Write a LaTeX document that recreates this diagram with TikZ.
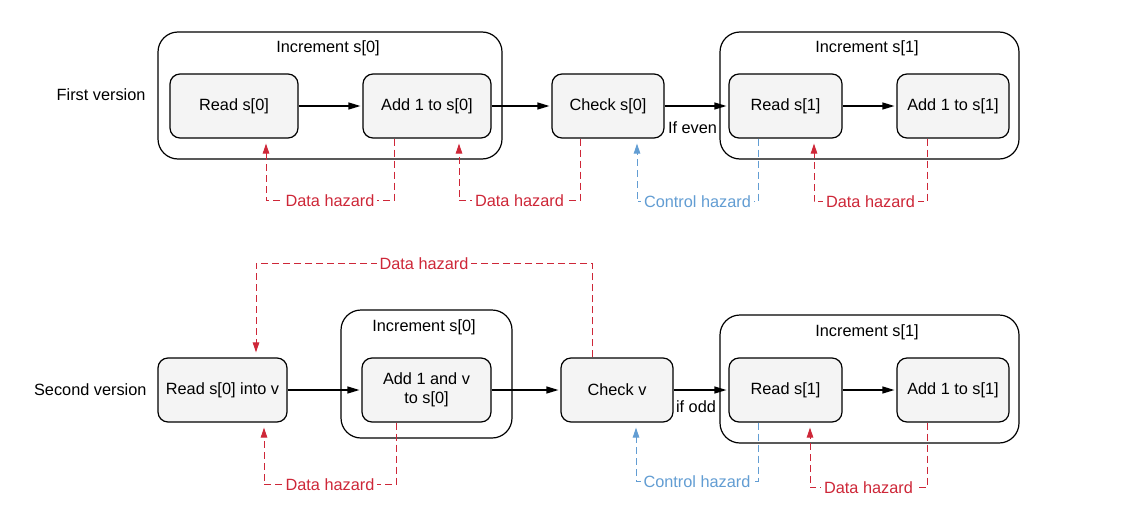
\documentclass[tikz,border=0pt]{standalone}
\usepackage{fontspec}
\setmainfont{Liberation Sans}
\usetikzlibrary{arrows.meta,calc}
\definecolor{hzred}{RGB}{206,39,56}
\definecolor{hzblue}{RGB}{98,157,211}
\definecolor{boxfill}{RGB}{244,244,244}
\begin{document}
\begin{tikzpicture}[x=1pt,y=-1pt,
  font=\fontsize{16.3}{19.5}\selectfont,
  stage/.style={draw, rounded corners=10pt, fill=boxfill, line width=1.2pt, minimum height=64pt, inner sep=2pt, align=center},
  group/.style={draw, rounded corners=20pt, line width=1.2pt},
  flow/.style={-{Triangle[length=12pt,width=7pt]}, line width=1.2pt, shorten >=2pt},
  haz/.style={dash pattern=on 7pt off 4pt, line width=1pt, -{Triangle[length=10pt,width=6.5pt]}, shorten >=5pt},
  hazlbl/.style={fill=white, inner sep=3pt}]
\useasboundingbox (0,0) rectangle (1131,522);

% ---------- First version ----------
\node[anchor=east] (lbl1) at (149,95) {First version};
\node[group, minimum width=344pt, minimum height=127pt] (g1) at (330,95.5) {};
\node (t1) at (328,48) {Increment s[0]};
\node[group, minimum width=299pt, minimum height=127pt] (g2) at (869.5,95.5) {};
\node (t2) at (867,48) {Increment s[1]};

\node[stage, minimum width=128pt] (r0) at (234,106) {Read s[0]};
\node[stage, minimum width=128pt] (a0) at (427,106) {Add 1 to s[0]};
\node[stage, minimum width=112pt] (c0) at (608,106) {Check s[0]};
\node[stage, minimum width=113pt] (r1) at (785.5,106) {Read s[1]};
\node[stage, minimum width=112pt] (a1) at (953,106) {Add 1 to s[1]};

\draw[flow] (r0) -- (a0);
\draw[flow] (a0) -- (c0);
\draw[flow] (c0) -- (r1) node[midway, xshift=-4pt, yshift=-22pt] (ife) {If even};
\draw[flow] (r1) -- (a1);

\draw[haz, hzred] ([xshift=-33pt]a0.south) -- ++(0,62) -| ([xshift=32pt]r0.south)
  node[hazlbl, pos=0.25] (h1) {Data hazard};
\draw[haz, hzred] ([xshift=-28pt]c0.south) -- ++(0,62) -| ([xshift=32pt]a0.south)
  node[hazlbl, pos=0.25] (h2) {Data hazard};
\draw[haz, hzblue] ([xshift=-27.5pt]r1.south) -- ++(0,63) -| ([xshift=29pt]c0.south)
  node[hazlbl, pos=0.25] (h3) {Control hazard};
\draw[haz, hzred] ([xshift=-26pt]a1.south) -- ++(0,63) -| ([xshift=28.5pt]r1.south)
  node[hazlbl, pos=0.25] (h4) {Data hazard};

% ---------- Second version ----------
\node[anchor=east] (lbl2) at (150,390) {Second version};
\node[group, minimum width=171pt, minimum height=128pt] (g3) at (426.5,374) {};
\node (t3) at (424,327) {Increment s[0]};
\node[group, minimum width=299pt, minimum height=128pt] (g4) at (869.5,379) {};
\node (t4) at (867,332) {Increment s[1]};

\node[stage, minimum width=129pt] (rv) at (222.5,390) {Read s[0] into v};
\node[stage, minimum width=129pt] (a0b) at (426.5,390) {Add 1 and v\\to s[0]};
\node[stage, minimum width=112pt] (cv) at (617,390) {Check v};
\node[stage, minimum width=113pt] (r1b) at (785.5,390) {Read s[1]};
\node[stage, minimum width=112pt] (a1b) at (953,390) {Add 1 to s[1]};

\draw[flow] (rv) -- (a0b);
\draw[flow] (a0b) -- (cv);
\draw[flow] (cv) -- (r1b) node[midway, xshift=-5pt, yshift=-17pt] (ifo) {if odd};
\draw[flow] (r1b) -- (a1b);

\draw[haz, hzred] ([xshift=-25pt]cv.north) -- ++(0,-94) -| ([xshift=33.5pt]rv.north)
  node[hazlbl, pos=0.25] (h5) {Data hazard};
\draw[haz, hzred] ([xshift=-30.5pt]a0b.south) -- ++(0,62) -| ([xshift=41.5pt]rv.south)
  node[hazlbl, pos=0.25] (h6) {Data hazard};
\draw[haz, hzblue] ([xshift=-27.5pt]r1b.south) -- ++(0,59) -| ([xshift=19pt]cv.south)
  node[hazlbl, pos=0.25] (h7) {Control hazard};
\draw[haz, hzred] ([xshift=-26pt]a1b.south) -- ++(0,65) -| ([xshift=24.5pt]r1b.south)
  node[hazlbl, pos=0.25] (h8) {Data hazard};
\end{tikzpicture}
\end{document}
